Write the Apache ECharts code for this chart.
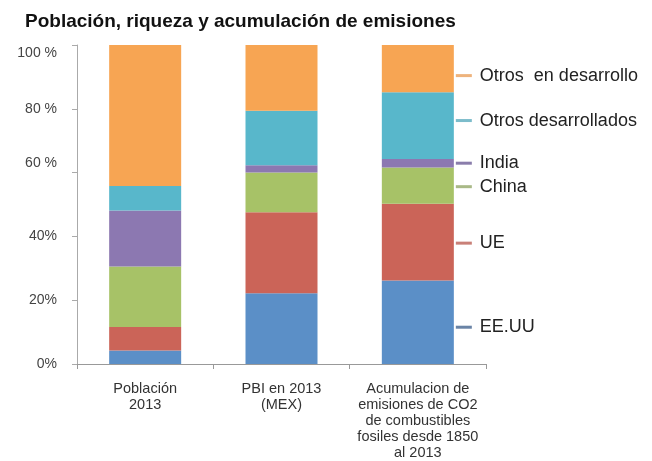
<html>
<head>
    <meta charset='utf-8' />
    <script src="https://cdn.jsdelivr.net/npm/echarts@6/dist/echarts.min.js"></script>
    <title>Población, riqueza y acumulación de emisiones</title>
    <style>
        body { margin: 0; background: #fff; overflow: hidden; }
        #chart { width: 652px; height: 461px; }
    </style>
</head>
<body>
    <div id="chart"></div>
    <script type="text/javascript">
        var categories = ['Población\n2013', 'PBI en 2013\n(MEX)',
            'Acumulacion de\nemisiones de CO2\nde combustibles\nfosiles desde 1850\nal 2013'];
        var seriesNames = ['EE.UU', 'UE', 'China', 'India', 'Otros desarrollados', 'Otros  en desarrollo'];
        var eeuu = [4.2, 22.2, 26.2];
        var ue = [7.4, 25.4, 24.0];
        var china = [19.0, 12.4, 11.4];
        var india = [17.5, 2.3, 2.7];
        var otrosDes = [7.7, 17.1, 20.9];
        var otrosEnDes = [44.2, 20.6, 14.8];
        var yTickLabels = ['0%', '20%', '40%', '60 %', '80 %', '100 %'];

        var colors = ['#5b8fc7', '#cb6458', '#a7c267', '#8c78b1', '#58b7cb', '#f7a553'];
        var stubColors = ['#6a84a6', '#c98078', '#a9b987', '#8a7dab', '#7cbccb', '#eeb37c'];
        var labelOffsets = [5, 1, 1, 0, -5, 7];
        var values = [eeuu, ue, china, india, otrosDes, otrosEnDes];

        var series = values.map(function(vals, s) {
            return {
                name: seriesNames[s],
                type: 'bar',
                stack: 'total',
                barWidth: 72,
                itemStyle: { color: colors[s] },
                label: {
                    show: false,
                    position: 'right',
                    distance: 2,
                    offset: [0, labelOffsets[s]],
                    formatter: '{s|}{t|' + seriesNames[s] + '}',
                    rich: {
                        s: { width: 16, height: 3, backgroundColor: stubColors[s] },
                        t: { fontSize: 18, color: '#222', padding: [0, 0, 0, 8], fontFamily: 'Liberation Sans' }
                    }
                },
                data: vals.map(function(v, i) {
                    return i === vals.length - 1 ? { value: v, label: { show: true } } : v;
                })
            };
        });

        var chart = echarts.init(document.getElementById('chart'));
        chart.setOption({
            animation: false,
            textStyle: { fontFamily: 'Liberation Sans' },
            title: {
                text: 'Población, riqueza y acumulación de emisiones',
                left: 20,
                top: 7,
                textStyle: { fontSize: 19, fontWeight: 'bold', color: '#111', fontFamily: 'Liberation Sans' }
            },
            grid: { left: 77, right: 166, top: 45, bottom: 97, containLabel: false, outerBoundsMode: 'none' },
            xAxis: {
                type: 'category',
                data: categories,
                axisLine: { lineStyle: { color: '#999' } },
                axisTick: { show: true, length: 5, lineStyle: { color: '#999' } },
                axisLabel: { color: '#333', fontSize: 14.5, lineHeight: 16, margin: 17, interval: 0 }
            },
            yAxis: {
                type: 'value',
                min: 0,
                max: 100,
                interval: 20,
                splitLine: { show: false },
                axisLine: { show: true, lineStyle: { color: '#aaa' } },
                axisTick: { show: true, length: 5, lineStyle: { color: '#aaa' } },
                axisLabel: {
                    color: '#444',
                    fontSize: 14,
                    margin: 20,
                    formatter: function(v) {
                        // the original labels sit a little off their ticks
                        var k = v / 20;
                        var style = k === 5 ? 'down' : (k === 3 ? 'up' : 'n');
                        return '{' + style + '|' + yTickLabels[k] + '}';
                    },
                    rich: {
                        n: { fontSize: 14, color: '#444' },
                        down: { fontSize: 14, color: '#444', padding: [16, 0, 0, 0] },
                        up: { fontSize: 14, color: '#444', padding: [0, 0, 18, 0] }
                    }
                }
            },
            series: series
        });
    </script>
</body>
</html>
